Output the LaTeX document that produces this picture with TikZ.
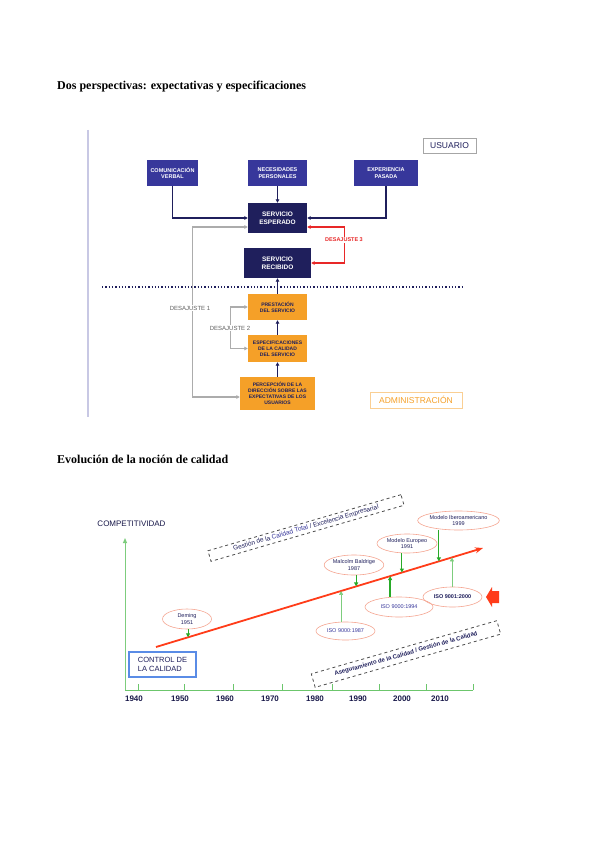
\documentclass[tikz,border=0pt]{standalone}
\usepackage{fontspec}
\setmainfont{Liberation Serif}
\setsansfont{Liberation Sans}
\usetikzlibrary{
    arrows.meta,
    calc,
    shapes.geometric
}
\definecolor{navy}{RGB}{31,31,92}
\definecolor{midblue}{RGB}{55,55,155}
\definecolor{boxorange}{RGB}{245,160,40}
\definecolor{gapred}{RGB}{232,40,40}
\definecolor{lavender}{RGB}{200,200,228}
\definecolor{salmon}{RGB}{245,165,145}
\definecolor{axgreen}{RGB}{125,205,125}
\definecolor{msgreen}{RGB}{40,170,40}
\definecolor{trendred}{RGB}{255,60,25}
\definecolor{ctrlblue}{RGB}{90,140,230}
\tikzset{
  title/.style   = {anchor=west, inner sep=0pt, font=\bfseries\fontsize{12}{14}\selectfont},
  fbox/.style    = {fill=midblue, text=white, minimum height=26, inner sep=1pt,
                    align=center, font=\sffamily\bfseries\fontsize{5.5}{6.5}\selectfont},
  sbox/.style    = {fill=navy, text=white, minimum height=30, inner sep=1pt,
                    align=center, font=\sffamily\bfseries\fontsize{6.5}{8}\selectfont},
  abox/.style    = {fill=boxorange, text=navy, inner sep=1pt, align=center,
                    font=\sffamily\bfseries\fontsize{5}{6}\selectfont},
  areabox/.style = {draw=#1, text=#1, line width=0.8pt, inner sep=0pt,
                    font=\sffamily\fontsize{8.5}{10}\selectfont},
  arr/.style     = {-{Triangle[length=3.5pt,width=3.5pt]}, navy, line width=1.2pt},
  gap/.style     = {{Triangle[length=3.5pt,width=3.5pt]}-{Triangle[length=3.5pt,width=3.5pt]},
                    gray!65, line width=1.3pt},
  gaplabel/.style= {fill=white, inner sep=1pt, text=gray!75!black,
                    font=\sffamily\fontsize{6}{7}\selectfont},
  milestone/.style = {ellipse, draw=salmon, line width=0.6pt, inner sep=0pt,
                    align=center, text=navy, font=\sffamily\fontsize{5.5}{6.5}\selectfont},
  msarr/.style   = {-{Triangle[length=4pt,width=4pt]}, msgreen, line width=1.1pt},
  msthin/.style  = {-{Triangle[length=4pt,width=4pt]}, axgreen, line width=0.6pt},
  band/.style    = {draw=black!70, dashed, line width=0.8pt, inner sep=1pt,
                    text=navy, font=\sffamily\fontsize{6.5}{7.5}\selectfont},
  year/.style    = {inner sep=0pt, text=navy!80!black, font=\sffamily\bfseries\fontsize{8}{9}\selectfont}
}

\begin{document}
\begin{tikzpicture}[x=1pt, y=-1pt]
\useasboundingbox[fill=white] (0,0) rectangle (599,848);

%% --- Titles ---
\node[title] (t-top) at (57,87) {Dos perspectivas: expectativas y especificaciones};
\node[title] (t-bot) at (57,459) {Evolución de la noción de calidad};

%% --- Frame: left rule, dotted divider ---
\draw[lavender, line width=1.6pt] (88,130) -- (88,417);
\draw[navy, dotted, line width=1.3pt] (102,287) -- (463,287);

\node[areabox=navy, minimum width=53, minimum height=15, draw=gray!70] (usuario) at (449.5,145.5) {USUARIO};
\node[areabox=boxorange, minimum width=92, minimum height=16, draw=boxorange!50] (admin) at (416,400) {ADMINISTRACIÓN};

%% --- User side ---
\node[fbox, minimum width=51] (com) at (172.5,173) {COMUNICACIÓN\\VERBAL};
\node[fbox, minimum width=59] (nec) at (277.5,173) {NECESIDADES\\PERSONALES};
\node[fbox, minimum width=64] (exp) at (386,173) {EXPERIENCIA\\PASADA};

\node[sbox, minimum width=59] (esperado) at (277.5,218) {SERVICIO\\ESPERADO};
\node[sbox, minimum width=67] (recibido) at (277.5,263) {SERVICIO\\RECIBIDO};

%% --- Provider side ---
\node[abox, minimum width=59, minimum height=26] (prestacion) at (277.5,307) {PRESTACIÓN\\DEL SERVICIO};
\node[abox, minimum width=59, minimum height=27] (especif) at (277.5,348.5) {ESPECIFICACIONES\\DE LA CALIDAD\\DEL SERVICIO};
\node[abox, minimum width=75, minimum height=33] (percepcion) at (277.5,393.5) {PERCEPCIÓN DE LA\\DIRECCIÓN SOBRE LAS\\EXPECTATIVAS DE LOS\\USUARIOS};

%% --- Arrows ---
\draw[arr] (com.south) |- (esperado.west);
\draw[arr] (nec) -- (esperado);
\draw[arr] (exp.south) |- (esperado.east);
\draw[arr] (percepcion) -- (especif);
\draw[arr] (especif) -- (prestacion);
\draw[arr] (prestacion) -- (recibido);

%% --- Gaps ---
\draw[gap] ($(percepcion.west)+(0,3.5)$) -- ++(-47,0) |- ($(esperado.west)+(0,9)$);
\draw[gap] (prestacion.west) -- ++(-17,0) |- (especif.west);
\draw[gap, gapred, line width=1.1pt] ($(esperado.east)+(0,9)$) -- ++(37,0) |- (recibido.east);

\node[gaplabel] (d1) at (190,308) {DESAJUSTE 1};
\node[gaplabel] (d2) at (230,328) {DESAJUSTE 2};
\node[gaplabel, text=gapred, font=\sffamily\bfseries\fontsize{5.5}{6.5}\selectfont] (d3) at (344,240) {DESAJUSTE 3};

%% --- Axes ---
\coordinate (origin) at (125,690);
\coordinate (ytop) at (125,538);
\coordinate (xend) at (473,690);
\draw[axgreen, line width=1pt, -{Triangle[length=5pt,width=4pt]}] (origin) -- (ytop);
\draw[axgreen!80!msgreen, line width=1pt] (origin) -- (xend);
\foreach \x in {138,184,233,282,332,379,426,473}
  \draw[axgreen!80!msgreen, line width=0.8pt] (\x,690) -- (\x,684);
\foreach \yr/\x in {1940/134,1950/180,1960/225,1970/270,1980/315,1990/358,2000/402,2010/440}
  \node[year] (y\yr) at (\x,699) {\yr};

\node[inner sep=0pt, text=navy!80!black, font=\sffamily\fontsize{8}{9}\selectfont] (compet) at (131.5,524) {COMPETITIVIDAD};

%% --- Trend ---
\coordinate (t0) at (156,647);
\coordinate (t1) at (483,548);
\draw[trendred, line width=1.8pt, -{Stealth[length=8pt,width=6pt]}] (t0) -- (t1);

\node[draw=ctrlblue, line width=2pt, minimum width=67, minimum height=25, inner sep=2pt,
      align=left, text=navy, font=\sffamily\fontsize{7.5}{9}\selectfont] (control) at (162.5,664.5) {CONTROL DE\\LA CALIDAD};

%% --- Bands ---
\node[band, rotate=16.2, minimum width=201, minimum height=11] (tqm) at (306,528)
  {Gestión de la {\color{midblue}Calidad Total} / Excelencia Empresarial};
\node[band, rotate=16, minimum width=193, minimum height=14, font=\sffamily\bfseries\fontsize{6}{7}\selectfont] (qa) at (406,654)
  {Aseguramiento de la Calidad / Gestión de la Calidad};

%% --- Milestones ---
\node[milestone, minimum width=49, minimum height=20] (deming) at (187,619) {Deming\\1951};
\node[milestone, minimum width=58, minimum height=20] (baldrige) at (354,565) {Malcolm Baldrige\\1987};
\node[milestone, minimum width=60, minimum height=19] (europeo) at (407,543.5) {Modelo Europeo\\1991};
\node[milestone, minimum width=81, minimum height=19] (ibero) at (458.5,520.5) {Modelo Iberoamericano\\1999};
\node[milestone, minimum width=59, minimum height=20, font=\sffamily\bfseries\fontsize{5.5}{6.5}\selectfont] (iso00) at (452.5,597) {ISO 9001:2000};
\node[milestone, minimum width=68, minimum height=20, text=midblue] (iso94) at (399,607) {ISO 9000:1994};
\node[milestone, minimum width=59, minimum height=18, text=midblue] (iso87) at (345.5,631) {ISO 9000:1987};

\coordinate (m1) at ($(t0)!0.098!(t1)$);
\coordinate (m2) at ($(t0)!0.612!(t1)$);
\coordinate (m3) at ($(t0)!0.752!(t1)$);
\coordinate (m4) at ($(t0)!0.865!(t1)$);
\coordinate (m5) at ($(t0)!0.905!(t1)$);
\coordinate (m6) at ($(t0)!0.716!(t1)$);
\coordinate (m7) at ($(t0)!0.566!(t1)$);

\draw[msarr] (deming.south -| m1) -- (m1);
\draw[msarr] (baldrige.south -| m2) -- (m2);
\draw[msarr] (europeo.south -| m3) -- (m3);
\draw[msarr] (ibero.south -| m4) -- (m4);
\draw[msthin] (iso00.north -| m5) -- (m5);
\draw[msarr, line width=1.8pt] (iso94.north -| m6) -- (m6);
\draw[msthin] (iso87.north -| m7) -- (m7);

%% --- Pointer at ISO 9001:2000 ---
\fill[trendred] (486,597) -- (492,587) -- (492,591) -- (499,591) -- (499,603)
  -- (492,603) -- (492,607) -- cycle;

\end{tikzpicture}
\end{document}
